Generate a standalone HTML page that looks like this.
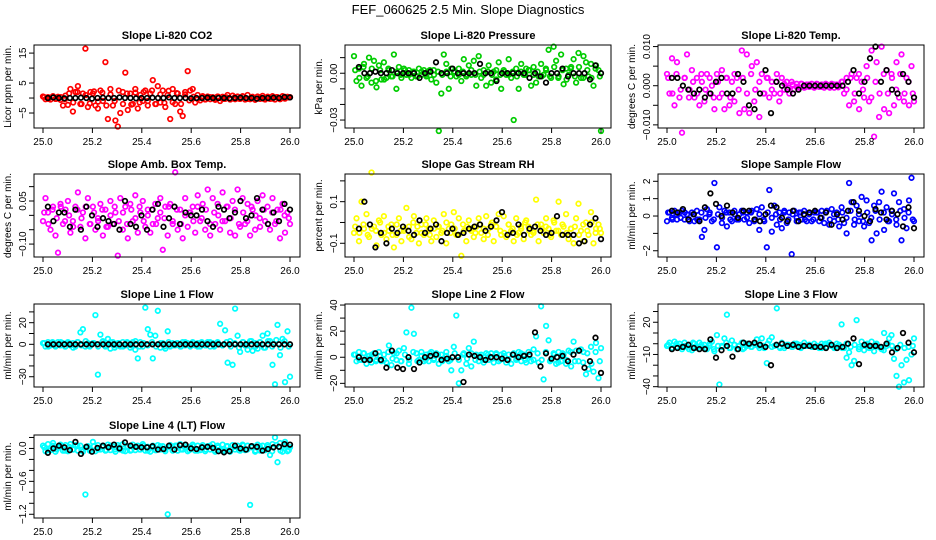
<!DOCTYPE html>
<html><head><meta charset="utf-8">
<style>
html,body{margin:0;padding:0;background:#fff;}
svg{display:block;font-family:"Liberation Sans",sans-serif;}
</style></head>
<body>
<svg id="chart" width="936" height="540" viewBox="0 0 936 540" xmlns="http://www.w3.org/2000/svg">
<text x="468" y="14" text-anchor="middle" font-size="13">FEF_060625  2.5 Min. Slope Diagnostics</text>
</svg>
<script>
// ---- data (colored series: evenly spaced samples over 25.0-26.0; core: dense band samples; black: 45 evenly spaced samples) ----
const xTicks = [25.0, 25.2, 25.4, 25.6, 25.8, 26.0];
const xTickLabels = ["25.0","25.2","25.4","25.6","25.8","26.0"];

const co2 = [0.5,-0.4,0.3,-0.5,0.6,-0.3,0.4,-0.6,-2.5,0.8, -2.3,3,-4.5,2,4,-2,1.5,16.5,-3,2, 1.5,-2.5,-3.5,2.5,-1,12,-7,3,-2.5,-7.5, -9.5,-5,2,8.5,-4,1.5,-2,3,-3.5,1, -1,2.5,-2.5,1.5,6,-2,4,-1.5,2.5,-3, 1,-7,3,-2,1.5,-4.5,-6,2,9,2.5, 3,-1.5,1,-0.8,0.6,-0.5,0.5,-0.4,0.3,-0.6, 0.5,-1,0.4,-0.3,1,-0.5,0.8,-0.4,0.5,-0.3, 0.6,-0.5,1,-0.4,0.4,-0.6,0.5,-0.3,0.7,-0.5, 0.4,-0.3,0.6,-0.5,0.3,-0.4,0.6,-0.2,0.4,0.3];
const co2Core = [0.3,-0.3,0.4,-0.2,0.3,-0.4,1.5,-1.5,2,-2,1,-1.8,2.2,-1.2,1.8,-2.5,1.2,-1,2.5,-2,1.5,-2.2,1.8,-1.5,2,-1,2.5,-2,1.2,-1.6,2.4,-1.4,1.6,-2,1.2,-0.8,0.4,-0.3,0.3,-0.4,0.3,-0.3,0.4,-0.3,0.2,-0.4,0.3,-0.2,0.4,-0.3,0.3,-0.4,0.2,-0.3,0.4,-0.2,0.3,-0.3,0.4,0.2];
const co2Black = [0,0.2,0,-0.1,0,0,0.1,0,-0.2,0,0.1,0,0,0.2,0,0,-0.1,0,0,0.1,0,0,0.2,0,0,0,-0.1,0,0,0.1,0,0,0,-0.1,0,0.1,0,0,-0.2,0,0,0.1,0,0.3,0.2];
const pres = [11,-5,3,-8,6,-3,10,-6,8,-9, 5,-4,7,-3,2,-2,12,-10,4,-3, 3,-1,2,-3,1,-2,3,-1,2,-2, 1,-4,2,-6,-37,-13,12,6,-10,3, 1,-2,3,-5,9,-2,5,-1,8,-8, 11,-3,2,-8,5,-6,1,-4,7,-10, 2,-1,9,-3,-30,3,-10,6,-1,3, 2,-8,4,-6,-2,6,-1,2,15,-3, 17,8,-2,12,-7,3,-1,4,9,-6, 13,-3,11,7,-2,6,-8,5,2,-37];
const presCore = [2,-3,4,-2,3,-5,2,-4,3,-2,1,-1,2,-1,1,-2,1,-1,2,-1,1,-1,1,-2,1,-1,1,-1,2,-1,1,-1,1,-1,2,-1,1,-1,1,-2,1,-1,2,-1,1,-2,3,-2,4,-3,2,-4,3,-2,4,-3,2,-3,3,-2];
const presBlack = [4,0,0,1,0,0,2,0,0,0,0,-3,0,1,7,0,0,3,0,0,0,0,6,0,0,-5,0,0,0,0,0,-3,0,-2,-6,0,0,3,-2,0,0,0,-4,5,0];
const ltemp = [3,-2,7,-5,6,-3,-12,2,8,-1, 4,-3,2,-5,1,-4,3,-2,0,-6, 3,-3,4,-6,2,-5,1,-4,2,-7, 9,-6,8,-7,5,-4,6,-8,3,-2, 2,-3,1,-2,3,-4,2,-1,1,-2, 1,-1,0.5,-0.5,0.5,-0.5,0.3,-0.3,0.5,-0.5, 0.5,-0.3,0.3,-0.5,0.3,-0.3,0.5,-0.5,0.3,-0.2, 1,-2,2,-5,3,-4,2,-6,1,-3, 5,-4,9,-13,6,-8,10,-6,4,-7, 3,-5,6,-3,8,-4,2,-5,5,-4];
const ltempCore = [2,-2,3,-1,2,-3,1,-2,3,-1,2,-3,1,-2,2,-3,3,-1,2,-2,3,-1,1,-2,2,-1,1,-2,0.5,-0.5,0.3,-0.3,0.5,-0.4,0.3,-0.3,0.4,-0.3,0.5,-0.5,0.3,-0.4,1,-1,2,-2,3,-1,2,-3,1,-2,3,-2,2,-1,3,-2,1,-2];
const ltempBlack = [2,2,0,-1,-2,-1,-3,-2,1,2,-2,-2,3,1,-5,-6,-2,4,-7,1,0,-1,-2,-1,0,0,0,0,0,0,0,0,1,4,-2,1,7,10,1,4,-1,-2,3,1,-3];
const amb = [-2,6,1,-5,3,-7,-13,4,-3,2, 5,-6,-2,3,8,-4,1,-8,6,-3, 3,-5,-1,4,-7,2,-4,5,-3,1, -14,6,-5,3,-8,4,-2,7,-6,1, 5,-4,2,-6,-3,4,-1,6,-12,3, -7,4,-3,15,-5,2,-8,6,-4,1, 3,-6,7,-2,4,-5,9,-7,6,-3, 4,-5,8,-2,3,-6,5,-7,9,-4, 6,-3,4,-7,2,-5,5,-4,7,-2, 3,-5,6,-3,2,-8,4,-6,1,-3];
const ambCore = [1,-3,2,-1,3,-2,0,-4,2,-1,3,-3,1,-2,2,-4,0,3,-2,1,-3,2,-1,3,-2,0,2,-3,1,-1,3,-2,2,-3,0,1,-2,3,-1,2,-3,1,0,-2,3,-1,2,-3,1,-2,3,0,-1,2,-3,1,-2,2,0,-1];
const ambBlack = [3,-2,1,1,-4,2,-5,3,0,-4,-1,-2,-3,-5,5,-3,-4,0,-5,2,4,-4,-1,3,-3,1,0,0,2,-2,-4,3,2,-1,1,5,-1,0,6,2,-3,1,-2,4,2];
const rh = [-5,2,-9,10,-3,4,-7,24,-2,-11, 1,-6,3,-8,-4,-1,-12,-6,2,-9, -4,7,-2,-8,3,-5,-10,-1,-6,2, -3,-9,1,-7,-2,-5,4,-10,-3,-1, 5,-6,2,-16,-4,-9,1,-3,-7,-2, 2,-5,-8,3,-3,-1,-9,-2,4,-6, 3,-7,-1,-4,-9,2,-5,-3,-8,1, -2,-6,-4,11,-9,-1,-5,2,-3,-7, 1,-4,10,-6,-2,4,-8,-3,-10,2, 9,-4,-9,0,-6,5,-10,-3,-1,-5];
const rhCore = [-2,-5,-1,-6,-3,-4,0,-5,-2,-6,-1,-4,-3,-7,0,-2,-5,-1,-6,-3,-2,-4,0,-5,-3,-6,-1,-2,-4,-5,-1,-3,-6,0,-2,-4,-5,-1,-3,-6,-2,0,-4,-5,-1,-3,-2,-6,0,-4,-1,-5,-3,-2,-6,-1,-4,0,-5,-3];
const rhBlack = [-3,10,-1,-12,-5,-10,-3,-5,-2,-4,-6,1,-5,-3,-1,-9,-5,-3,-6,-5,-3,-2,-1,-4,-2,1,5,-6,-5,-1,-6,-3,-2,-4,-6,-5,3,-6,-6,-6,-10,-9,-1,2,-8];
const samp = [-0.3,0.2,-0.1,0.3,-0.2,0.2,0.3,-0.2,0.1,-0.3, 0.2,-0.3,0.3,-0.2,-1.2,-0.8,0.4,0.1,-0.3,1.9, -1.8,0.5,-0.4,0.3,-0.6,0.2,-0.3,0.3,-0.2,0.1, 0.3,-0.2,0.2,-0.4,0.3,-0.3,0.4,-0.8,0.5,-0.3, -1.8,1.5,-0.9,0.6,-0.5,0.2,-0.7,0.3,-0.4,0.2, -2.2,0.3,-0.3,0.2,-0.2,0.3,-0.3,0.2,-0.3,0.2, 0.2,-0.3,0.3,-0.4,0.3,-0.5,0.4,-0.3,0.2,-0.6, 0.5,-0.4,-1,1.9,0.8,-0.5,0.6,-0.3,1.1,-0.6, 0.9,-0.4,-1.4,0.6,-1,0.8,1.4,-0.8,0.5,-0.3, 0.3,1.3,-0.5,0.8,-1.4,0.4,-0.7,0.9,2.2,-0.3];
const sampCore = [0.2,-0.2,0.1,-0.1,0.2,-0.2,0.1,-0.2,0.2,-0.1,0.2,-0.2,0.1,-0.1,0.2,-0.2,0.1,-0.2,0.2,-0.1,0.2,-0.2,0.1,-0.2,0.2,-0.1,0.1,-0.2,0.2,-0.2,0.1,-0.1,0.2,-0.2,0.1,-0.2,0.2,-0.1,0.2,-0.2,0.1,-0.2,0.2,-0.1,0.3,-0.2,0.1,-0.3,0.2,-0.1,0.3,-0.2,0.2,-0.3,0.1,-0.2,0.3,-0.1,0.2,-0.2];
const sampBlack = [0.3,0.2,0.4,-0.2,0.1,-0.3,0.5,1.3,0.7,0,0.6,0.2,-0.1,0.3,0.3,-0.2,-0.3,0.1,0.6,0.5,-0.1,-0.3,0.3,-0.3,0.1,0.2,0.3,-0.1,0.2,-0.5,0.1,-0.2,0.3,0.8,0.3,0,-0.3,0.4,0.2,-0.2,0.3,0.1,-0.6,0.5,-0.7];
const l1 = [1,-2,2,-1,1,-2,2,-1,1,-2, 2,-1,1,-2,2,11,14,-2,1,-1, 1,27,-28,9,3,-2,5,-4,2,-1, 1,-2,2,-1,1,-3,2,-5,-13,2, -2,34,14,9,-13,8,31,-3,1,-4, 12,-2,1,-1,1,-2,2,-1,1,-2, 2,-1,1,-2,1,-1,2,-2,1,-1, 2,19,-1,13,-17,3,-19,33,8,-7, 2,-1,-5,3,-6,1,-4,2,8,-3, 10,3,-19,-37,18,-10,5,-35,12,-30];
const l1Core = [1,-2,2,-1,2,-2,1,-3,2,-1,3,-2,1,-2,2,-1,2,-3,1,-2,2,-1,3,-2,1,-1,2,-2,1,-2,2,-1,1,-2,2,-1,1,-2,2,-1,2,-2,1,-1,2,-2,1,-3,2,-1,3,-2,2,-3,3,-2,4,-3,3,-2];
const l1Black = [0,0,0,0,0,0,0,0,0,0,0,0,0,0,0,0,0,0,0,0,0,0,0,0,0,0,0,0,0,0,0,0,0,0,0,0,0,0,0,0,0,0,0,0,0];
const l2 = [2,-3,4,-2,3,-5,1,-4,3,-2, 4,-3,2,-4,9,-6,3,-2,5,-3, 7,19,-5,38,18,3,-2,4,-3,2, -3,4,-2,3,-5,2,-1,4,-3,-10, 8,32,-20,-10,3,-5,7,-7,12,2, -3,2,-4,3,-2,3,-4,2,-3,2, 3,-4,2,-5,3,-2,4,-3,2,-4, 4,-3,6,16,-4,39,-17,24,13,-2, 3,-5,4,-3,2,-5,5,-7,12,5, -3,6,4,-13,-9,8,-11,11,-16,7];
const l2Core = [2,-2,3,-1,2,-3,1,-2,4,-1,3,-3,2,-2,4,-3,1,-2,3,-1,2,-3,1,-2,3,-2,2,-1,3,-2,1,-2,2,-1,3,-2,1,-2,2,-1,3,-2,1,-2,3,-2,4,-3,2,-4,3,-2,4,-3,5,-4,3,-5,4,-3];
const l2Black = [0,-2,-2,3,-2,-8,5,-8,-9,0,-9,-4,0,1,2,-2,-1,0,0,-19,2,1,0,-2,0,0,-1,-2,2,0,1,2,19,-7,3,-1,0,1,-3,2,5,-8,-3,15,-12];
const l3 = [-2,1,-4,2,-3,0,-5,1,-3,-1, -6,0,-4,1,-3,-1,-5,-2,2,-7, 8,-38,-2,5,27,-4,3,-1,-5,-2, 1,-4,-2,-1,-3,0,4,-2,5,-4, -18,3,6,-2,33,-3,1,-4,-1,-2, -3,0,-2,-1,-3,1,-2,-1,-3,0, -2,-4,0,-1,-3,1,-2,-4,0,-1, 18,-4,-13,-8,-20,-16,22,-3,2,-6, -1,-4,2,-7,0,-3,-5,10,-2,5, 8,-14,-30,-40,-20,-36,-15,-34,-10,5];
const l3Core = [-1,-4,0,-3,-2,-5,1,-3,-1,-4,0,-5,-2,-3,1,-4,-1,-2,-5,0,-3,-1,-4,-2,0,-3,-1,-4,-2,-1,-3,0,-4,-2,-1,-3,-2,-4,0,-1,-3,-2,-4,0,-3,-1,-5,-2,0,-4,-1,-3,-6,0,-2,-5,-1,-4,-3,-2];
const l3Black = [-5,-4,-3,-1,-4,-5,-5,4,-13,-6,-2,-12,-5,1,0,1,-1,-3,-20,-1,0,-2,-1,-3,-2,-2,-3,-3,-4,-1,-4,-3,0,5,-19,-1,-2,-2,-3,0,-8,-4,10,1,-8];
const lt = [0.05,-0.05,0.08,-0.03,0.1,-0.06,0.02,0.07,-0.04,0.06, -0.05,0.08,-0.02,0.06,-0.04,0.05,-0.06,-0.84,0.04,-0.03, 0.12,-0.05,0.06,-0.02,0.05,-0.04,0.07,-0.03,0.04,-0.06, 0.06,-0.02,0.08,-0.05,0.03,-0.04,0.07,-0.03,0.05,-0.02, 0.08,-0.04,0.03,-0.06,0.05,-0.03,0.06,-0.02,0.04,-0.05, -1.2,0.06,-0.03,0.05,-0.04,0.08,-0.02,0.06,-0.05,0.03, 0.07,-0.04,0.05,-0.03,0.06,-0.05,0.04,-0.02,0.08,-0.06, 0.05,-0.03,0.07,-0.05,0.04,-0.06,0.06,-0.02,0.05,-0.04, 0.07,-0.03,0.05,-1.03,0.04,-0.06,0.07,-0.04,0.05,-0.03, 0.06,-0.12,0.08,0.2,-0.25,0.1,-0.06,0.12,-0.05,0.02];
const ltCore = [0.02,-0.03,0.05,-0.02,0.04,-0.04,0.03,-0.02,0.05,-0.03,0.02,-0.04,0.04,-0.02,0.03,-0.03,0.05,-0.02,0.02,-0.04,0.04,-0.03,0.03,-0.02,0.05,-0.04,0.02,-0.03,0.04,-0.02,0.03,-0.04,0.05,-0.02,0.02,-0.03,0.04,-0.04,0.03,-0.02,0.05,-0.03,0.02,-0.04,0.04,-0.02,0.03,-0.03,0.05,-0.02,0.02,-0.04,0.04,-0.03,0.03,-0.05,0.06,-0.04,0.05,-0.03];
const ltBlack = [-0.08,0,0.05,0.02,-0.03,0.12,-0.1,0.03,-0.06,0.01,0.05,0.02,0.07,0,0.11,0.05,0.03,0.02,0.02,0.04,-0.02,-0.01,0.05,-0.02,0.06,0.07,0,-0.01,0.02,0.03,0.01,-0.05,-0.07,-0.05,0.05,0,-0.02,0.04,0.03,-0.04,-0.01,0.02,0.03,0.08,0.07];

// ---- panel config ----
const panels = [
 {name:"co2",title:"Slope Li-820 CO2",ylab:"Licor ppm per min.",col:"#ff0000",data:co2,core:co2Core,black:co2Black,scale:1,ymin:-10,ymax:17.7,ticks:[-5,0,5,10,15],labels:{"-5":"−5","5":"5","15":"15"},c:0,r:0},
 {name:"pressure",title:"Slope Li-820 Pressure",ylab:"kPa per min.",col:"#00cc00",data:pres,core:presCore,black:presBlack,scale:0.001,ymin:-0.0351,ymax:0.0181,ticks:[-0.03,-0.02,-0.01,0,0.01],labels:{"0":"0.00","-0.03":"−0.03"},c:1,r:0},
 {name:"temp",title:"Slope Li-820 Temp.",ylab:"degrees C per min.",col:"#ff00ff",data:ltemp,core:ltempCore,black:ltempBlack,scale:0.001,ymin:-0.0108,ymax:0.0104,ticks:[-0.01,-0.005,0,0.005,0.01],labels:{"-0.01":"−0.010","0":"0.000","0.01":"0.010"},c:2,r:0},
 {name:"amb-box-temp",title:"Slope Amb. Box Temp.",ylab:"degrees C per min.",col:"#ff00ff",data:amb,core:ambCore,black:ambBlack,scale:0.01,ymin:-0.145,ymax:0.144,ticks:[-0.1,-0.05,0,0.05,0.1],labels:{"-0.1":"−0.10","0.05":"0.05"},c:0,r:1},
 {name:"gas-rh",title:"Slope Gas Stream RH",ylab:"percent per min.",col:"#ffff00",data:rh,core:rhCore,black:rhBlack,scale:0.01,ymin:-0.166,ymax:0.233,ticks:[-0.1,0,0.1,0.2],labels:{"-0.1":"−0.1","0.1":"0.1"},c:1,r:1},
 {name:"sample-flow",title:"Slope Sample Flow",ylab:"ml/min per min.",col:"#0000ff",data:samp,core:sampCore,black:sampBlack,scale:1,ymin:-2.36,ymax:2.42,ticks:[-2,-1,0,1,2],labels:{"-2":"−2","0":"0","1":"1","2":"2"},c:2,r:1},
 {name:"line1-flow",title:"Slope Line 1 Flow",ylab:"ml/min per min.",col:"#00ffff",data:l1,core:l1Core,black:l1Black,scale:1,ymin:-39.5,ymax:37.3,ticks:[-30,-20,-10,0,10,20,30],labels:{"-30":"−30","0":"0","20":"20"},c:0,r:2},
 {name:"line2-flow",title:"Slope Line 2 Flow",ylab:"ml/min per min.",col:"#00ffff",data:l2,core:l2Core,black:l2Black,scale:1,ymin:-22.8,ymax:40.8,ticks:[-20,-10,0,10,20,30,40],labels:{"-20":"−20","0":"0","20":"20","40":"40"},c:1,r:2},
 {name:"line3-flow",title:"Slope Line 3 Flow",ylab:"ml/min per min.",col:"#00ffff",data:l3,core:l3Core,black:l3Black,scale:1,ymin:-40.3,ymax:37,ticks:[-40,-30,-20,-10,0,10,20,30],labels:{"-40":"−40","-10":"−10","20":"20"},c:2,r:2},
 {name:"line4-flow",title:"Slope Line 4 (LT) Flow",ylab:"ml/min per min.",col:"#00ffff",data:lt,core:ltCore,black:ltBlack,scale:1,ymin:-1.268,ymax:0.245,ticks:[-1.2,-1,-0.8,-0.6,-0.4,-0.2,0,0.2],labels:{"-1.2":"−1.2","-0.6":"−0.6","0":"0.0"},c:0,r:3}
];

const NS="http://www.w3.org/2000/svg";
const svg=document.getElementById("chart");
const colLeft=[34,345,658], rowTop=[45,174,304,435], PW=266, PH=83;
const XMIN=25-9/247, XMAX=26+10/247;
function mk(tag,attrs,parent){const e=document.createElementNS(NS,tag);for(const k in attrs)e.setAttribute(k,attrs[k]);parent.appendChild(e);return e;}

panels.forEach(p=>{
  const L=colLeft[p.c], T=rowTop[p.r];
  const g=mk("g",{},svg);
  
  
  const xs=v=>L+(v-XMIN)/(XMAX-XMIN)*PW;
  const ys=v=>T+PH-(v-p.ymin)/(p.ymax-p.ymin)*PH;
  const t=mk("text",{x:L+PW/2,y:T-6,"text-anchor":"middle","font-size":"11","font-weight":"bold"},g);
  t.textContent=p.title;
  
  
  const pts=mk("g",{fill:"none","stroke-width":"1.7"},g);
  
  
  const n=p.data.length;
  p.data.forEach((v,i)=>{
    const c=mk("circle",{cx:xs(25+i/(n-1)).toFixed(1),cy:ys(v*p.scale).toFixed(1),r:"2.3",stroke:p.col},pts);
    
    
  });
  const nc=p.core.length;
  p.core.forEach((v,i)=>{
    const c=mk("circle",{cx:xs(25.005+i*0.99/(nc-1)).toFixed(1),cy:ys(v*p.scale).toFixed(1),r:"2.3",stroke:p.col},pts);
    
    
  });
  const nb=p.black.length;
  p.black.forEach((v,i)=>{
    const c=mk("circle",{cx:xs(25.02+i*0.98/(nb-1)).toFixed(1),cy:ys(v*p.scale).toFixed(1),r:"2.3",stroke:"#000"},pts);
    
    
  });
  const b=mk("rect",{x:L,y:T,width:PW,height:PH,fill:"none",stroke:"#000","stroke-width":"1"},g);
  
  
  const xa=mk("g",{},g);
  
  
  xTicks.forEach((v,i)=>{
    const x=xs(v);
    mk("line",{x1:x,x2:x,y1:T+PH,y2:T+PH+5,stroke:"#000"},xa);
    const tl=mk("text",{x:x,y:T+PH+17,"text-anchor":"middle","font-size":"10"},xa);
    tl.textContent=xTickLabels[i];
    
    
  });
  const ya=mk("g",{},g);
  
  
  p.ticks.forEach(v=>{
    const y=ys(v);
    if(y<T-0.5||y>T+PH+0.5)return;
    mk("line",{x1:L-5,x2:L,y1:y,y2:y,stroke:"#000"},ya);
    const key=String(v);
    if(p.labels[key]!==undefined){
      const tl=mk("text",{x:0,y:0,"text-anchor":"middle","font-size":"10",transform:`translate(${L-8},${y}) rotate(-90)`},ya);
      tl.textContent=p.labels[key];
      
      
    }
  });
  const yl=mk("text",{x:0,y:0,"text-anchor":"middle","font-size":"10",transform:`translate(${L-23},${T+PH/2}) rotate(-90)`},g);
  yl.textContent=p.ylab;
  
  
});
</script>
</body></html>
